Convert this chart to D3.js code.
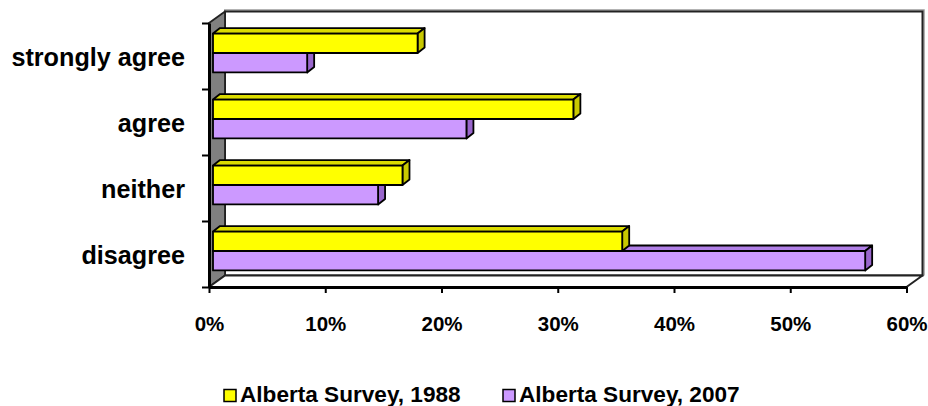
<!DOCTYPE html>
<html>
<head>
<meta charset="utf-8">
<script src="https://cdn.jsdelivr.net/npm/d3@7"></script>
<style>
  html, body { margin: 0; padding: 0; background: #fff; }
  svg { display: block; font-family: "Liberation Sans", Arial, sans-serif; font-weight: bold; }
</style>
</head>
<body>
<svg id="chart" width="928" height="406"></svg>
<script>
const categories = ["strongly agree", "agree", "neither", "disagree"];
const seriesNames = ["Alberta Survey, 1988", "Alberta Survey, 2007"];
const values1988 = [17.6, 31.0, 16.3, 35.2];
const values2007 = [8.1, 21.8, 14.2, 56.1];
const xTickValues = [0, 10, 20, 30, 40, 50, 60];
const xTickLabels = ["0%", "10%", "20%", "30%", "40%", "50%", "60%"];
const frontColors = ["#FFFF00", "#CC99FF"];
const sideColors = ["#C8C800", "#9966CC"];
const topColors = ["#DCDC00", "#B07FE6"];

const svg = d3.select("#chart");

// geometry
const plot = { left: 209, right: 906.5, top: 23, bottom: 287 };
const depth = { dx: 16, dy: -11.5 };
const barFront = { dx: 4, dy: -3 };
const barDepth = { dx: 7, dy: -5.5 };

const x = d3.scaleLinear().domain([0, 60]).range([plot.left, plot.right]);
const y = d3.scaleBand().domain(categories).range([plot.top, plot.bottom])
  .paddingInner(0.41).paddingOuter(0.205);
const ySub = d3.scaleBand().domain(seriesNames).range([0, y.bandwidth()]);

const data = categories.map((c, i) => ({
  cat: c,
  vals: [values1988[i], values2007[i]]
}));

const pts = arr => arr.map(p => p.join(",")).join(" ");

// ----- walls -----
const walls = svg.append("g");
// soft gray outline of back wall (shadow line)
walls.append("polyline")
  .attr("points", pts([
    [plot.left + depth.dx - 1, plot.top + depth.dy - 1.5],
    [plot.right + depth.dx + 1.5, plot.top + depth.dy - 1.5],
    [plot.right + depth.dx + 1.5, plot.bottom + depth.dy]
  ]))
  .attr("fill", "none").attr("stroke", "#9a9a9a").attr("stroke-width", 1.5);
// back wall
walls.append("rect")
  .attr("x", plot.left + depth.dx).attr("y", plot.top + depth.dy)
  .attr("width", plot.right - plot.left).attr("height", plot.bottom - plot.top)
  .attr("fill", "#fff").attr("stroke", "#222").attr("stroke-width", 2);
// left side wall
walls.append("polygon")
  .attr("points", pts([
    [plot.left, plot.top],
    [plot.left + depth.dx, plot.top + depth.dy],
    [plot.left + depth.dx, plot.bottom + depth.dy],
    [plot.left, plot.bottom]
  ]))
  .attr("fill", "#808080").attr("stroke", "#222").attr("stroke-width", 1.8)
  .attr("stroke-linejoin", "round");
// floor
walls.append("polygon")
  .attr("points", pts([
    [plot.left, plot.bottom],
    [plot.left + depth.dx, plot.bottom + depth.dy],
    [plot.right + depth.dx, plot.bottom + depth.dy],
    [plot.right, plot.bottom]
  ]))
  .attr("fill", "#fff").attr("stroke", "#222").attr("stroke-width", 2)
  .attr("stroke-linejoin", "round");

// ----- bars -----
const barsG = svg.append("g");
data.forEach(d => {
  // draw lower (2007) first, then 1988 on top
  [1, 0].forEach(si => {
    const v = d.vals[si];
    const x0 = x(0) + barFront.dx;
    const x1 = x(v) + barFront.dx;
    const yt = y(d.cat) + ySub(seriesNames[si]) + barFront.dy;
    const h = ySub.bandwidth();
    const g = barsG.append("g")
      .attr("stroke", "#000").attr("stroke-width", 1.8).attr("stroke-linejoin", "round");
    g.append("polygon")
      .attr("points", pts([[x0, yt], [x0 + barDepth.dx, yt + barDepth.dy],
        [x1 + barDepth.dx, yt + barDepth.dy], [x1, yt]]))
      .attr("fill", topColors[si]);
    g.append("polygon")
      .attr("points", pts([[x1, yt], [x1 + barDepth.dx, yt + barDepth.dy],
        [x1 + barDepth.dx, yt + h + barDepth.dy], [x1, yt + h]]))
      .attr("fill", sideColors[si]);
    g.append("rect")
      .attr("x", x0).attr("y", yt).attr("width", x1 - x0).attr("height", h)
      .attr("fill", frontColors[si]);
  });
});

// ----- axes -----
const xAxis = d3.axisBottom(x)
  .tickValues(xTickValues)
  .tickFormat((d, i) => xTickLabels[i])
  .tickSize(6).tickPadding(23).tickSizeOuter(0);
const gx = svg.append("g").attr("transform", `translate(0,${plot.bottom})`).call(xAxis);
gx.select(".domain").attr("stroke", "#000").attr("stroke-width", 3);
gx.selectAll(".tick line").attr("stroke", "#000").attr("stroke-width", 2);
gx.selectAll(".tick text").attr("fill", "#000").attr("font-size", 20.5)
  .attr("font-family", "'Liberation Sans', Arial, sans-serif").attr("font-weight", "bold");

// left boundary ticks
const yEdges = d3.scaleLinear().domain([0, categories.length]).range([plot.top, plot.bottom]);
const yAxisTicks = d3.axisLeft(yEdges).ticks(categories.length).tickFormat("").tickSize(7).tickSizeOuter(0);
const gyt = svg.append("g").attr("transform", `translate(${plot.left},0)`).call(yAxisTicks);
gyt.select(".domain").attr("stroke", "#000").attr("stroke-width", 3);
gyt.selectAll(".tick line").attr("stroke", "#000").attr("stroke-width", 2);

// category labels
const yLabels = d3.axisLeft(y).tickSize(0).tickPadding(24);
const gyl = svg.append("g").attr("transform", `translate(${plot.left},2)`).call(yLabels);
gyl.select(".domain").remove();
gyl.selectAll(".tick text").attr("fill", "#000").attr("font-size", 25.2)
  .attr("font-family", "'Liberation Sans', Arial, sans-serif").attr("font-weight", "bold");

// ----- legend -----
const legendX = [224, 503];
const legend = svg.append("g");
seriesNames.forEach((s, i) => {
  legend.append("rect")
    .attr("x", legendX[i]).attr("y", 389.5).attr("width", 12).attr("height", 12)
    .attr("fill", frontColors[i]).attr("stroke", "#000").attr("stroke-width", 1.5);
  legend.append("text")
    .attr("x", legendX[i] + 16).attr("y", 402)
    .attr("font-size", 22.6).attr("fill", "#000")
    .text(s);
});
</script>
</body>
</html>
